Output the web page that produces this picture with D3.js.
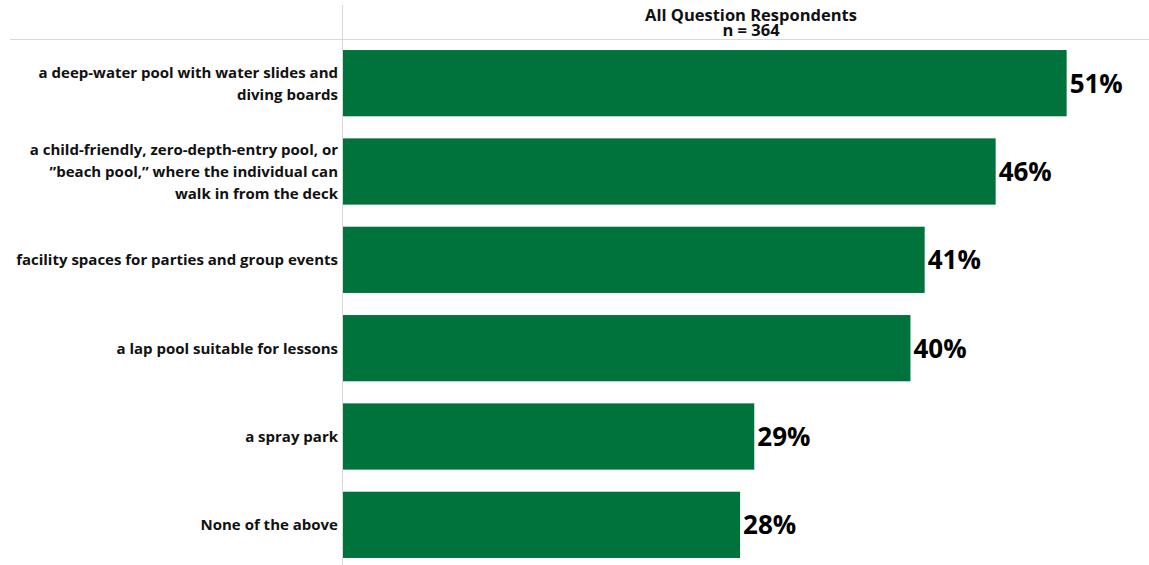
<!DOCTYPE html>
<html>
<head>
<meta charset="utf-8">
<script src="https://cdn.jsdelivr.net/npm/d3@7"></script>
<style>
  html, body { margin: 0; padding: 0; background: #fff; }
  svg { display: block; }
  text { font-family: "Open Sans", Lato, sans-serif; }
</style>
</head>
<body>
<svg id="chart" width="1149" height="565"></svg>
<script>
// Survey answers (share of all respondents, %)
const categories = [
  ["a deep-water pool with water slides and", "diving boards"],
  ["a child-friendly, zero-depth-entry pool, or", "\u201dbeach pool,\u201d where the individual can", "walk in from the deck"],
  ["facility spaces for parties and group events"],
  ["a lap pool suitable for lessons"],
  ["a spray park"],
  ["None of the above"]
];
const values = [51, 46, 41, 40, 29, 28];
const headerLines = ["All Question Respondents", "n = 364"];

const W = 1149, H = 565;
const plotLeft = 342.5, plotTop = 39, plotBottom = 569;

const svg = d3.select("#chart");

const x = d3.scaleLinear().domain([0, 56.8]).range([plotLeft, W]);
const y = d3.scaleBand().domain(d3.range(values.length)).range([plotTop, plotBottom]).paddingInner(0.25).paddingOuter(0.125);

// rule under the header and the divider between labels and bars
svg.append("line").attr("x1", 10).attr("x2", W).attr("y1", 39.5).attr("y2", 39.5)
  .attr("stroke", "#d9d9d9").attr("stroke-width", 1);
svg.append("line").attr("x1", plotLeft).attr("x2", plotLeft).attr("y1", 5).attr("y2", H)
  .attr("stroke", "#d9d9d9").attr("stroke-width", 1);

// header, one text per line
svg.append("g").selectAll("text").data(headerLines).join("text")
  .attr("text-anchor", "middle").attr("font-weight", 700)
  .attr("font-size", 16.5).attr("fill", "#111")
  .attr("x", 751).attr("y", (d, i) => 21 + i * 15)
  .text(d => d);

// bars
svg.append("g").selectAll("rect").data(values).join("rect")
  .attr("x", plotLeft + 0.5)
  .attr("y", (d, i) => y(i))
  .attr("width", d => x(d) - plotLeft - 0.5)
  .attr("height", y.bandwidth())
  .attr("fill", "#00733c");

// value labels
svg.append("g").selectAll("text").data(values).join("text")
  .attr("x", d => x(d) + 3)
  .attr("y", (d, i) => y(i) + y.bandwidth() / 2)
  .attr("dy", "0.36em")
  .attr("font-size", 26).attr("font-weight", 700).attr("fill", "#000")
  .text(d => d + "%");

// category labels
const lab = svg.append("g").selectAll("text").data(categories).join("text")
  .attr("text-anchor", "end")
  .attr("font-size", 15).attr("font-weight", 700).attr("fill", "#111");
lab.each(function(lines, i) {
  const cy = y(i) + y.bandwidth() / 2;
  const lh = 22;
  const y0 = cy - (lines.length - 1) * lh / 2;
  d3.select(this).selectAll("tspan").data(lines).join("tspan")
    .attr("x", 338)
    .attr("y", (d, j) => y0 + j * lh)
    .attr("dy", "0.36em")
    .text(d => d);
});
</script>
</body>
</html>
